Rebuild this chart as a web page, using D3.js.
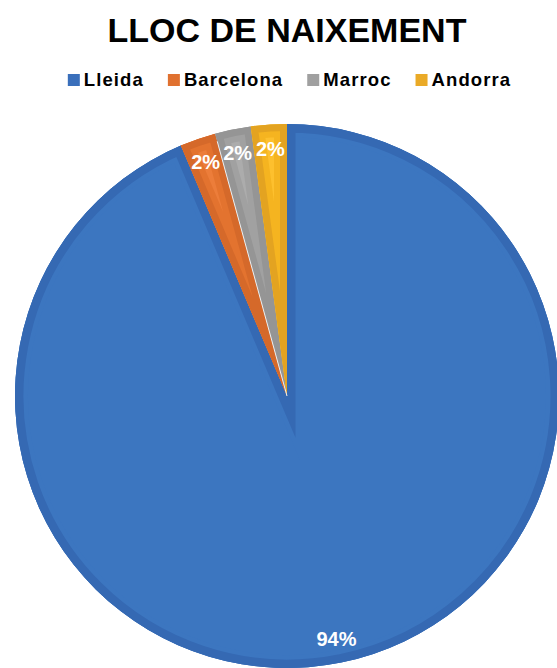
<!DOCTYPE html>
<html>
<head>
<meta charset="utf-8">
<script src="https://cdn.jsdelivr.net/npm/d3@7"></script>
<style>
  html, body { margin: 0; padding: 0; background: #fff; }
  svg text { font-family: "Liberation Sans", Arial, Helvetica, sans-serif; font-weight: bold; }
</style>
</head>
<body>
<div id="chart"></div>
<script>
// data
var title_text = "LLOC DE NAIXEMENT";
var categories = ["Lleida", "Barcelona", "Marroc", "Andorra"];
var values     = [44, 1, 1, 1];

// palette: border, middle band, inner fill, legend marker
var color_dark  = ["#3569b3", "#d5692a", "#959595", "#e3a321"];
var color_mid   = ["#3c76c0", "#e3732f", "#a1a1a1", "#f5b420"];
var color_inner = ["#3c76c0", "#ec7d3a", "#acacac", "#fdc02e"];
var color_key   = ["#3a6fbb", "#e07130", "#a0a0a0", "#eaaa27"];

var width_chart  = 557;
var height_chart = 668;
var cx_pie = 287;
var cy_pie = 396;
var radius_pie = 272;
var label_radius = 248;

var svg = d3.select("#chart").append("svg")
  .attr("width", width_chart)
  .attr("height", height_chart);

svg.append("rect")
  .attr("width", width_chart)
  .attr("height", height_chart)
  .attr("fill", "#fff");

// title
svg.append("text")
  .attr("x", 287)
  .attr("y", 42)
  .attr("text-anchor", "middle")
  .attr("font-size", 34)
  .attr("fill", "#000")
  .text(title_text);

// legend, laid out from measured text widths
var legend = svg.append("g");
var x_cursor = 0;
categories.forEach(function (c, i) {
  var item = legend.append("g").attr("transform", "translate(" + x_cursor + ",0)");
  item.append("rect")
    .attr("x", 0).attr("y", 74)
    .attr("width", 12).attr("height", 12)
    .attr("fill", color_key[i]);
  var t = item.append("text")
    .attr("x", 16).attr("y", 86)
    .attr("font-size", 18.5)
    .attr("letter-spacing", 1.1)
    .attr("fill", "#000")
    .text(c);
  x_cursor += 16 + t.node().getComputedTextLength() + 24;
});
var legend_width = x_cursor - 24;
legend.attr("transform", "translate(" + (289.5 - legend_width / 2) + ",0)");

// pie
var total = d3.sum(values);
var pie = d3.pie().sort(null).value(function (d) { return d; });
var arcs = pie(values);
var arc = d3.arc().innerRadius(0).outerRadius(radius_pie);
var label_arc = d3.arc().innerRadius(label_radius).outerRadius(label_radius);
var fmt = d3.format(".0%");

var defs = svg.append("defs");
arcs.forEach(function (a, i) {
  defs.append("clipPath").attr("id", "clip_slice_" + i)
    .append("path").attr("d", arc(a));
});

var g_pie = svg.append("g").attr("transform", "translate(" + cx_pie + "," + cy_pie + ")");

var slices = g_pie.selectAll("g.slice")
  .data(arcs)
  .join("g")
  .attr("class", "slice")
  .attr("clip-path", function (d, i) { return "url(#clip_slice_" + i + ")"; });

slices.append("path")
  .attr("d", arc)
  .attr("fill", function (d, i) { return color_inner[i]; });

// inner bevel bands: strokes twice as wide, clipped to the slice
slices.append("path")
  .attr("d", arc)
  .attr("fill", "none")
  .attr("stroke", function (d, i) { return color_mid[i]; })
  .attr("stroke-width", 26)
  .attr("stroke-linejoin", "miter")
  .attr("stroke-miterlimit", 40);

slices.append("path")
  .attr("d", arc)
  .attr("fill", "none")
  .attr("stroke", function (d, i) { return color_dark[i]; })
  .attr("stroke-width", function (d, i) { return i === 0 ? 17 : 14; })
  .attr("stroke-linejoin", "miter")
  .attr("stroke-miterlimit", 40);

// faint highlight between Barcelona and Marroc
g_pie.append("line")
  .attr("x1", 0).attr("y1", 0)
  .attr("x2", Math.sin(arcs[2].startAngle) * (radius_pie - 8))
  .attr("y2", -Math.cos(arcs[2].startAngle) * (radius_pie - 8))
  .attr("stroke", "#eeeeee")
  .attr("stroke-width", 1);

// labels
g_pie.selectAll("text.label")
  .data(arcs)
  .join("text")
  .attr("class", "label")
  .attr("transform", function (d) { return "translate(" + label_arc.centroid(d) + ")"; })
  .attr("dy", "0.36em")
  .attr("text-anchor", "middle")
  .attr("font-size", 20)
  .attr("fill", "#fff")
  .text(function (d) { return fmt(d.value / total); });
</script>
</body>
</html>
